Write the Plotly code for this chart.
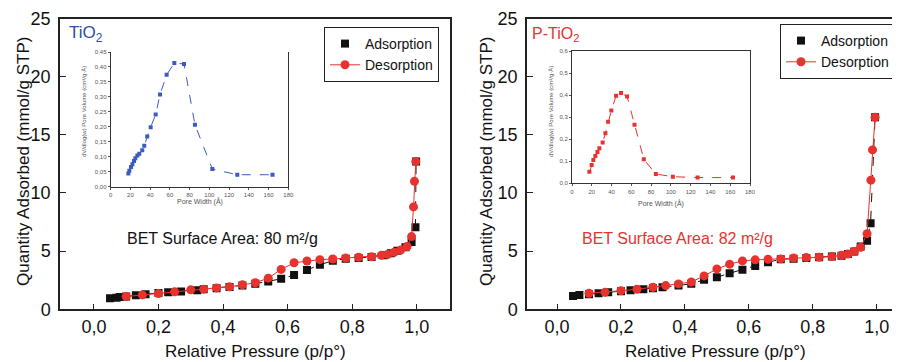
import plotly.graph_objects as go

# The page places the figure 8 px from the top-left corner, so the figure is
# sized to fill the rest of the 900x362 window exactly.
OFF = 8
W, H = 900 - OFF, 362 - OFF

# ---------------- data ----------------
# Left panel: TiO2
tio2_ads_x = [0.05, 0.07, 0.08, 0.10, 0.13, 0.16, 0.20, 0.23, 0.27, 0.32, 0.34, 0.38, 0.42, 0.46,
              0.50, 0.54, 0.58, 0.62, 0.66, 0.70, 0.74, 0.78, 0.82, 0.86, 0.90, 0.92, 0.94, 0.965,
              0.984, 0.996, 0.998]
tio2_ads_y = [0.95, 1.00, 1.05, 1.10, 1.20, 1.30, 1.40, 1.47, 1.53, 1.64, 1.72, 1.82, 1.92, 2.05,
              2.20, 2.39, 2.62, 2.94, 3.37, 3.83, 4.18, 4.35, 4.40, 4.50, 4.64, 4.81, 5.04, 5.33,
              5.79, 7.06, 12.7]
tio2_des_x = [0.10, 0.15, 0.20, 0.25, 0.30, 0.34, 0.38, 0.42, 0.46, 0.50, 0.54, 0.58, 0.62, 0.66,
              0.70, 0.74, 0.78, 0.82, 0.86, 0.89, 0.91, 0.93, 0.95, 0.97, 0.984, 0.99, 0.993, 0.997]
tio2_des_y = [1.10, 1.24, 1.35, 1.50, 1.67, 1.73, 1.84, 1.93, 2.10, 2.28, 2.68, 3.43, 4.00, 4.15,
              4.27, 4.32, 4.40, 4.47, 4.52, 4.64, 4.72, 4.90, 5.10, 5.40, 6.25, 8.8, 11.0, 12.7]

# Right panel: P-TiO2
ptio2_ads_x = [0.05, 0.07, 0.10, 0.13, 0.16, 0.20, 0.23, 0.27, 0.30, 0.33, 0.38, 0.42, 0.46, 0.50,
               0.54, 0.58, 0.62, 0.66, 0.70, 0.74, 0.78, 0.82, 0.86, 0.89, 0.91, 0.93, 0.95, 0.97,
               0.981, 0.995]
ptio2_ads_y = [1.15, 1.22, 1.30, 1.38, 1.46, 1.55, 1.63, 1.72, 1.80, 1.90, 2.05, 2.20, 2.53, 2.76,
               3.10, 3.39, 3.73, 4.05, 4.30, 4.35, 4.42, 4.48, 4.53, 4.60, 4.75, 4.97, 5.40, 5.90,
               7.40, 16.5]
ptio2_des_x = [0.10, 0.15, 0.20, 0.25, 0.30, 0.34, 0.38, 0.42, 0.46, 0.50, 0.54, 0.58, 0.62, 0.66,
               0.70, 0.74, 0.78, 0.82, 0.86, 0.89, 0.91, 0.93, 0.95, 0.97, 0.982, 0.987, 0.995]
ptio2_des_y = [1.38, 1.46, 1.60, 1.72, 1.90, 2.04, 2.18, 2.35, 2.87, 3.47, 3.88, 4.16, 4.25, 4.30,
               4.33, 4.40, 4.45, 4.48, 4.53, 4.64, 4.75, 4.97, 5.33, 6.50, 11.1, 13.7, 16.5]

# Insets: pore size distributions
tio2_pore_w = [17.9, 18.9, 20.6, 22.0, 23.6, 25.0, 27.0, 29.0, 32.0, 34.0, 37.0, 40.5, 45.6, 50.0,
               56.7, 64.5, 74.3, 85.4, 103.0, 128.3, 164.0]
tio2_pore_v = [0.044, 0.053, 0.066, 0.075, 0.086, 0.095, 0.104, 0.110, 0.122, 0.137, 0.168, 0.199,
               0.241, 0.308, 0.374, 0.413, 0.410, 0.207, 0.059, 0.040, 0.040]
ptio2_pore_w = [17.6, 19.9, 21.6, 23.6, 25.7, 27.7, 31.0, 33.8, 36.5, 39.8, 44.6, 49.6, 55.7, 63.2,
                72.6, 84.8, 102.0, 127.0, 162.8]
ptio2_pore_v = [0.052, 0.083, 0.106, 0.124, 0.142, 0.159, 0.185, 0.227, 0.279, 0.330, 0.397, 0.409,
                0.394, 0.265, 0.109, 0.042, 0.030, 0.026, 0.026]

main_x_ticks = [0.0, 0.2, 0.4, 0.6, 0.8, 1.0]
main_y_ticks = [0, 5, 10, 15, 20, 25]
inset_x_ticks = [0, 20, 40, 60, 80, 100, 120, 140, 160, 180]

BLACK = "#111111"
RED = "#e8322e"
BLUE = "#3a5bbf"
FONT = "Liberation Sans, Arial, sans-serif"


def px(x):
    # window pixel -> paper fraction
    return (x - OFF) / W


def py(y):
    return 1 - (y - OFF) / H


fig = go.Figure()

# ---- left main ----
fig.add_trace(go.Scatter(x=tio2_ads_x, y=tio2_ads_y, mode="lines", line=dict(color=BLACK, width=1, dash="dash"),
                         xaxis="x", yaxis="y", showlegend=False, hoverinfo="skip"))
fig.add_trace(go.Scatter(x=tio2_ads_x, y=tio2_ads_y, mode="markers", name="Adsorption",
                         marker=dict(symbol="square", size=8, color=BLACK),
                         xaxis="x", yaxis="y", legend="legend"))
fig.add_trace(go.Scatter(x=tio2_des_x, y=tio2_des_y, mode="lines+markers", name="Desorption",
                         line=dict(color=RED, width=1), marker=dict(symbol="circle", size=9, color=RED),
                         xaxis="x", yaxis="y", legend="legend"))

# ---- right main ----
fig.add_trace(go.Scatter(x=ptio2_ads_x, y=ptio2_ads_y, mode="lines", line=dict(color=BLACK, width=1, dash="dash"),
                         xaxis="x2", yaxis="y2", showlegend=False, hoverinfo="skip"))
fig.add_trace(go.Scatter(x=ptio2_ads_x, y=ptio2_ads_y, mode="markers", name="Adsorption",
                         marker=dict(symbol="square", size=8, color=BLACK),
                         xaxis="x2", yaxis="y2", legend="legend2"))
fig.add_trace(go.Scatter(x=ptio2_des_x, y=ptio2_des_y, mode="lines+markers", name="Desorption",
                         line=dict(color=RED, width=1), marker=dict(symbol="circle", size=9, color=RED),
                         xaxis="x2", yaxis="y2", legend="legend2"))

# ---- insets ----
fig.add_trace(go.Scatter(x=tio2_pore_w, y=tio2_pore_v, mode="lines+markers",
                         line=dict(color=BLUE, width=1, dash="dash"),
                         marker=dict(symbol="square", size=4, color=BLUE),
                         xaxis="x3", yaxis="y3", showlegend=False))
fig.add_trace(go.Scatter(x=ptio2_pore_w, y=ptio2_pore_v, mode="lines+markers",
                         line=dict(color=RED, width=1, dash="dash"),
                         marker=dict(symbol="square", size=4, color=RED),
                         xaxis="x4", yaxis="y4", showlegend=False))

main_tick_font = dict(family=FONT, size=18, color="#111")
ax_common = dict(showline=True, linecolor="#222", linewidth=1.5, ticks="inside", ticklen=6,
                 tickcolor="#222", showgrid=False, zeroline=False, tickfont=main_tick_font)
inset_common = dict(showline=True, linecolor="#333", linewidth=1, ticks="outside", ticklen=2,
                    tickcolor="#555", showgrid=False, zeroline=False,
                    tickfont=dict(family=FONT, size=6, color="#555"))

Y_DOM = [py(309.3), py(18.5)]

fig.update_layout(
    width=W, height=H,
    margin=dict(l=0, r=0, t=0, b=0, autoexpand=False),
    paper_bgcolor="white", plot_bgcolor="rgba(0,0,0,0)",
    separators=",.",
    font=dict(family=FONT, color="#111"),
    xaxis=dict(domain=[px(60), px(450)], range=[-0.105, 1.103], tickvals=main_x_ticks,
               tickformat=".1f", mirror=True, anchor="y", ticklabelstandoff=0, **ax_common),
    yaxis=dict(domain=Y_DOM, range=[0, 25], tickvals=main_y_ticks, mirror=True, anchor="x",
               ticklabelstandoff=4, **ax_common),
    xaxis2=dict(domain=[px(527), 1.0], range=[-0.094, 1.073], tickvals=main_x_ticks,
                tickformat=".1f", mirror=True, anchor="y2", ticklabelstandoff=0, **ax_common),
    yaxis2=dict(domain=Y_DOM, range=[0, 25], tickvals=main_y_ticks, mirror=False, anchor="x2",
                ticklabelstandoff=4, **ax_common),
    xaxis3=dict(domain=[px(110.7), px(288.3)], range=[0, 180], tickvals=inset_x_ticks,
                anchor="y3", mirror=False, **inset_common),
    yaxis3=dict(domain=[py(186.7), py(52)], range=[0, 0.45], dtick=0.05, tickformat=".2f",
                anchor="x3", mirror=True, **inset_common),
    xaxis4=dict(domain=[px(572), px(750)], range=[0, 180], tickvals=inset_x_ticks,
                anchor="y4", mirror=True, **inset_common),
    yaxis4=dict(domain=[py(183.3), py(51)], range=[0, 0.6], dtick=0.1, tickformat=".1f",
                anchor="x4", mirror=True, **inset_common),
    legend=dict(x=px(324), y=py(27), xanchor="left", yanchor="top", bordercolor="#222", borderwidth=1,
                bgcolor="white", font=dict(family=FONT, size=14, color="#111"),
                tracegroupgap=0, itemwidth=30),
    legend2=dict(x=px(780), y=py(24), xanchor="left", yanchor="top", bordercolor="#222", borderwidth=1,
                 bgcolor="white", font=dict(family=FONT, size=14, color="#111"),
                 tracegroupgap=0, itemwidth=30),
)


def note(text, x, y, size, color="#111", angle=0, xanchor="center", yanchor="middle"):
    return dict(text=text, x=px(x), y=py(y), xref="paper", yref="paper", xanchor=xanchor,
                yanchor=yanchor, showarrow=False, textangle=angle,
                font=dict(family=FONT, size=size, color=color))


ann = [
    note("Relative Pressure (p/p°)", 255, 351, 17),
    note("Relative Pressure (p/p°)", 715, 351, 17),
    note("Quantity Adsorbed (mmol/g STP)", 23, 162, 17, angle=-90),
    note("Quantity Adsorbed (mmol/g STP)", 486, 162, 17, angle=-90),
    note("TiO<sub>2</sub>", 67, 21, 17, color="#2b4ea8", xanchor="left", yanchor="top"),
    note("P-TiO<sub>2</sub>", 530, 23, 16, color=RED, xanchor="left", yanchor="top"),
    note("BET Surface Area: 80 m²/g", 125, 238, 16, xanchor="left"),
    note("BET Surface Area: 82 m²/g", 580, 238, 16, color=RED, xanchor="left"),
    note("dV/dlog(w) Pore Volume (cm³/g·Å)", 84, 112, 6, color="#555", angle=-90),
    note("Pore Width (Å)", 200, 202, 7, color="#555"),
    note("dV/dlog(w) Pore Volume (cm³/g·Å)", 551, 112, 6, color="#555", angle=-90),
    note("Pore Width (Å)", 661, 203, 7, color="#555"),
]
fig.update_layout(annotations=ann)

fig.write_html("out.html")
